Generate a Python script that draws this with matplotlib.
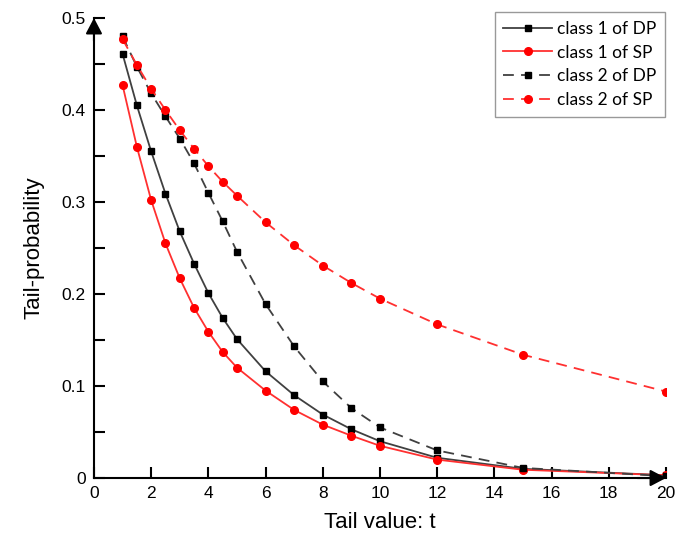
import matplotlib.pyplot as plt
import numpy as np

plt.rcParams["font.family"] = "Liberation Sans"

# Tail values t
t = [1, 1.5, 2, 2.5, 3, 3.5, 4, 4.5, 5, 6, 7, 8, 9, 10, 12, 15, 20]

# Tail probabilities for each class / model
c1_dp = [0.461, 0.405, 0.355, 0.309, 0.268, 0.233, 0.201, 0.174, 0.151,
         0.116, 0.090, 0.069, 0.053, 0.040, 0.022, 0.010, 0.003]
c1_sp = [0.427, 0.360, 0.302, 0.255, 0.217, 0.185, 0.159, 0.137, 0.120,
         0.095, 0.074, 0.058, 0.046, 0.035, 0.020, 0.009, 0.003]
c2_dp = [0.480, 0.447, 0.418, 0.393, 0.369, 0.342, 0.310, 0.279, 0.246,
         0.189, 0.143, 0.105, 0.076, 0.055, 0.030, 0.011, 0.002]
c2_sp = [0.477, 0.449, 0.423, 0.400, 0.378, 0.358, 0.339, 0.322, 0.307,
         0.278, 0.253, 0.231, 0.212, 0.195, 0.167, 0.134, 0.094]

fig = plt.figure(figsize=(6.78, 5.46), dpi=100)
ax = fig.add_axes([0.1386, 0.1245, 0.8437, 0.8425])

dash = (0, (6, 4))
ax.plot(t, c1_dp, color="#404040", lw=1.3, marker="s", ms=5, mfc="k", mec="k",
        label="class 1 of DP")
ax.plot(t, c1_sp, color="#ff3030", lw=1.3, marker="o", ms=5.5, mfc="red", mec="red",
        label="class 1 of SP")
ax.plot(t, c2_dp, color="#404040", lw=1.3, ls=dash, marker="s", ms=5, mfc="k", mec="k",
        label="class 2 of DP")
ax.plot(t, c2_sp, color="#ff3030", lw=1.3, ls=dash, marker="o", ms=5.5, mfc="red", mec="red",
        label="class 2 of SP")

ax.set_xlim(0, 20)
ax.set_ylim(0, 0.5)
ax.set_xticks(np.arange(0, 21, 2))
ax.set_yticks(np.arange(0, 0.51, 0.1))
ax.set_yticks(np.arange(0.05, 0.5, 0.1), minor=True)
ax.set_yticklabels(["0", "0.1", "0.2", "0.3", "0.4", "0.5"])
ax.tick_params(which="both", direction="in", length=8, width=1.5,
               labelsize=12.5, pad=6)

for side in ["top", "right"]:
    ax.spines[side].set_visible(False)
for side in ["left", "bottom"]:
    ax.spines[side].set_linewidth(1.5)

# arrow heads at the axis ends
head = "-|>,head_length=0.95,head_width=0.5"
ax.annotate("", xy=(1.0, 0), xytext=(0.95, 0), xycoords="axes fraction",
            arrowprops=dict(arrowstyle=head, color="k", lw=1.5,
                            shrinkA=0, shrinkB=0),
            annotation_clip=False)
ax.annotate("", xy=(0, 1.0), xytext=(0, 0.95), xycoords="axes fraction",
            arrowprops=dict(arrowstyle=head, color="k", lw=1.5,
                            shrinkA=0, shrinkB=0),
            annotation_clip=False)

ax.set_xlabel("Tail value: t", fontsize=16, labelpad=8)
ax.set_ylabel("Tail-probability", fontsize=16, labelpad=12)

leg = ax.legend(loc="upper right", bbox_to_anchor=(0.981, 0.978),
                bbox_transform=fig.transFigure, fancybox=False,
                edgecolor="#808080", prop={"family": "Lato", "size": 12.5},
                handlelength=2.8, borderpad=0.5, labelspacing=0.45,
                handletextpad=0.3, borderaxespad=0)
leg.get_frame().set_linewidth(1.0)

fig.savefig("out.png", dpi=100)
